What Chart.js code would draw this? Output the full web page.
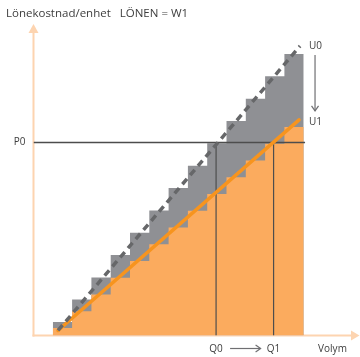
<!DOCTYPE html>
<html>
<head>
<meta charset="utf-8">
<script src="https://cdn.jsdelivr.net/npm/chart.js@4/dist/chart.umd.min.js"></script>
<style>
  html, body { margin: 0; padding: 0; background: #ffffff; }
  canvas { display: block; }
</style>
</head>
<body>
<canvas id="chart" width="360" height="357"></canvas>
<script>
// Volume steps (left edge of each step) and unit labour cost per step
const stepStart = [1, 2, 3, 4, 5, 6, 7, 8, 9, 10, 11, 12, 13];
const costU0 = [7.0, 18.6, 30.1, 41.7, 53.3, 64.8, 76.4, 88.0, 99.6, 111.1, 122.7, 134.3, 145.9];
const costU1 = [3.9, 12.6, 21.3, 29.9, 38.6, 47.3, 56.0, 64.7, 73.3, 82.0, 90.7, 99.4, 108.0];

// Straight cost curves U0 (dashed) and U1
const curveU0X = [1.27, 13.81];
const curveU0Y = [2.6, 150];
const curveU1X = [1.27, 13.76];
const curveU1Y = [2.6, 111.7];

// Price level and volumes
const P0 = 100;
const Q0 = 9.46;
const Q1 = 12.44;
const priceLineEnd = 14.07;

const titleText = 'Lönekostnad/enhet   LÖNEN = W1';
const xTitle = 'Volym';

const FONT = '10px "Open Sans", "Noto Sans", sans-serif';
const TITLE_FONT = '11.5px "Open Sans", "Noto Sans", sans-serif';
const TEXT = '#3d3d3d';
const AXIS = '#fdd4b0';
const GREY_FILL = '#8f9094';
const ORANGE_FILL = '#fbab5e';
const ORANGE_LINE = '#f7941e';
const DASH = '#666769';
const REF = '#4d4d4d';

function stepPoints(vals) {
  const pts = stepStart.map((x, i) => ({ x: x, y: vals[i] }));
  pts.push({ x: stepStart[stepStart.length - 1] + 1, y: vals[vals.length - 1] });
  return pts;
}
function pairPoints(xs, ys) {
  return xs.map((x, i) => ({ x: x, y: ys[i] }));
}

function arrowHead(ctx, x, y, dx, dy, len, half) {
  // open chevron pointing along (dx, dy)
  const px = -dy, py = dx;
  ctx.beginPath();
  ctx.moveTo(x - dx * len + px * half, y - dy * len + py * half);
  ctx.lineTo(x, y);
  ctx.lineTo(x - dx * len - px * half, y - dy * len - py * half);
  ctx.stroke();
}

const decor = {
  id: 'decor',
  beforeDatasetsDraw(chart) {
    const ctx = chart.ctx;
    const xs = chart.scales.x, ys = chart.scales.y;
    const x0 = xs.getPixelForValue(0), y0 = ys.getPixelForValue(0);
    ctx.save();
    ctx.strokeStyle = AXIS;
    ctx.fillStyle = AXIS;
    ctx.lineWidth = 2;
    // y axis with arrow
    ctx.beginPath();
    ctx.moveTo(x0, y0 + 1);
    ctx.lineTo(x0, 30);
    ctx.stroke();
    ctx.beginPath();
    ctx.moveTo(x0, 24);
    ctx.lineTo(x0 - 5, 33);
    ctx.lineTo(x0 + 5, 33);
    ctx.closePath();
    ctx.fill();
    // x axis with arrow
    ctx.beginPath();
    ctx.moveTo(x0 - 1, y0);
    ctx.lineTo(353, y0);
    ctx.stroke();
    ctx.beginPath();
    ctx.moveTo(359.5, y0);
    ctx.lineTo(351, y0 - 5);
    ctx.lineTo(351, y0 + 5);
    ctx.closePath();
    ctx.fill();
    ctx.restore();
  },
  afterDraw(chart) {
    const ctx = chart.ctx;
    const xs = chart.scales.x, ys = chart.scales.y;
    const x0 = xs.getPixelForValue(0);
    const yBase = ys.getPixelForValue(0);
    ctx.save();
    ctx.fillStyle = TEXT;
    ctx.textBaseline = 'middle';

    ctx.font = TITLE_FONT;
    ctx.textAlign = 'left';
    ctx.fillText(titleText, 6, 14);

    ctx.font = FONT;
    ctx.textAlign = 'right';
    ctx.fillText('P0', x0 - 8, ys.getPixelForValue(P0));

    const u0x = xs.getPixelForValue(curveU0X[1]);
    const u0y = ys.getPixelForValue(curveU0Y[1]);
    const u1x = xs.getPixelForValue(curveU1X[1]);
    const u1y = ys.getPixelForValue(curveU1Y[1]);
    ctx.textAlign = 'left';
    ctx.fillText('U0', u0x + 9, u0y);
    ctx.fillText('U1', u1x + 10, u1y + 2);

    const labelY = yBase + 14;
    ctx.textAlign = 'center';
    const q0x = xs.getPixelForValue(Q0), q1x = xs.getPixelForValue(Q1);
    ctx.fillText('Q0', q0x, labelY);
    ctx.fillText('Q1', q1x, labelY);
    ctx.fillText(xTitle, 332.5, labelY);

    // shift arrows
    ctx.strokeStyle = '#6f6f72';
    ctx.lineWidth = 1.2;
    ctx.beginPath();
    ctx.moveTo(q0x + 14, labelY - 1);
    ctx.lineTo(q1x - 13, labelY - 1);
    ctx.stroke();
    arrowHead(ctx, q1x - 13, labelY - 1, 1, 0, 5, 3.5);

    const ax = u0x + 15;
    ctx.beginPath();
    ctx.moveTo(ax, u0y + 9);
    ctx.lineTo(ax, u1y - 9);
    ctx.stroke();
    arrowHead(ctx, ax, u1y - 9, 0, 1, 5, 3.5);
    ctx.restore();
  }
};

const lineBase = {
  type: 'line',
  pointRadius: 0,
  pointHoverRadius: 0,
  tension: 0,
  fill: false
};

new Chart(document.getElementById('chart'), {
  type: 'line',
  data: {
    datasets: [
      Object.assign({}, lineBase, {
        label: 'U0 steg',
        data: stepPoints(costU0),
        stepped: 'before',
        borderWidth: 0,
        borderColor: 'rgba(0,0,0,0)',
        backgroundColor: GREY_FILL,
        fill: 'origin',
        order: 6
      }),
      Object.assign({}, lineBase, {
        label: 'U1 steg',
        data: stepPoints(costU1),
        stepped: 'before',
        borderWidth: 0,
        borderColor: 'rgba(0,0,0,0)',
        backgroundColor: ORANGE_FILL,
        fill: 'origin',
        order: 5
      }),
      Object.assign({}, lineBase, {
        label: 'P0',
        data: [{ x: 0, y: P0 }, { x: priceLineEnd, y: P0 }],
        borderColor: REF,
        borderWidth: 1.4,
        order: 4
      }),
      Object.assign({}, lineBase, {
        label: 'Q0',
        data: [{ x: Q0, y: 0 }, { x: Q0, y: P0 }],
        borderColor: REF,
        borderWidth: 1.2,
        order: 4
      }),
      Object.assign({}, lineBase, {
        label: 'Q1',
        data: [{ x: Q1, y: 0 }, { x: Q1, y: P0 }],
        borderColor: REF,
        borderWidth: 1.2,
        order: 4
      }),
      Object.assign({}, lineBase, {
        label: 'U1',
        data: pairPoints(curveU1X, curveU1Y),
        borderColor: ORANGE_LINE,
        borderWidth: 3.5,
        borderCapStyle: 'round',
        order: 3
      }),
      Object.assign({}, lineBase, {
        label: 'U0',
        data: pairPoints(curveU0X, curveU0Y),
        borderColor: DASH,
        borderWidth: 3.5,
        borderDash: [7, 5],
        borderCapStyle: 'butt',
        order: 2
      })
    ]
  },
  options: {
    responsive: false,
    animation: false,
    events: [],
    layout: { padding: { left: 33.5, right: 17.7, top: 26.7, bottom: 21.5 } },
    scales: {
      x: { type: 'linear', min: 0, max: 16, display: false },
      y: { type: 'linear', min: 0, max: 160, display: false }
    },
    plugins: {
      legend: { display: false },
      tooltip: { enabled: false },
      title: { display: false }
    }
  },
  plugins: [decor]
});
</script>
</body>
</html>
